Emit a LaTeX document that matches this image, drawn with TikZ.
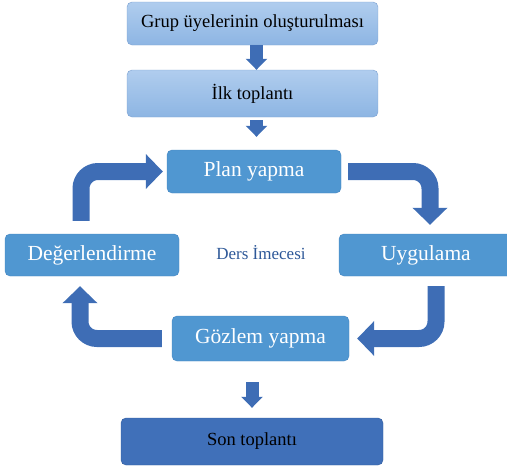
\documentclass[tikz,border=0pt]{standalone}
\usepackage{fontspec}
\setmainfont{Liberation Serif}
\usepackage{tikz}
\usetikzlibrary{arrows.meta,positioning,calc}
\definecolor{lightblue}{RGB}{176,205,238}
\definecolor{lightblueb}{RGB}{141,181,227}
\definecolor{lightedge}{RGB}{122,160,208}
\definecolor{midblue}{RGB}{80,151,209}
\definecolor{midedge}{RGB}{66,133,192}
\definecolor{darkblue}{RGB}{64,112,185}
\definecolor{darkedge}{RGB}{47,90,156}
\definecolor{arrowblue}{RGB}{62,109,181}
\definecolor{labelblue}{RGB}{46,88,152}

\begin{document}
\begin{tikzpicture}[x=1pt, y=-1pt]
  \tikzstyle{topbox} = [rectangle, rounded corners=5pt, draw=lightedge, top color=lightblue, bottom color=lightblueb, minimum width=251pt, align=center, font=\fontsize{18.5}{20}\selectfont]
  \tikzstyle{cyclebox} = [rectangle, rounded corners=5pt, draw=midedge, fill=midblue, text=white, minimum width=174pt, minimum height=43pt, align=center, font=\fontsize{21.5}{23}\selectfont]
  \tikzstyle{endbox} = [rectangle, rounded corners=5pt, draw=darkedge, fill=darkblue, minimum width=262pt, minimum height=47pt, align=center, font=\fontsize{18.5}{20}\selectfont]
  \tikzstyle{downarrow} = [draw=arrowblue, line width=13pt, -{Triangle[width=21pt,length=11pt]}]
  \tikzstyle{bentarrow} = [draw=arrowblue, line width=17pt, rounded corners=17pt, -{Triangle[width=34pt,length=17pt]}]

  \useasboundingbox (0,0) rectangle (507,466);
  \clip (0,0) rectangle (507,466);

  \node[topbox, minimum height=43pt] (grup) at (252.5, 23.5) {Grup üyelerinin oluşturulması};
  \node[topbox, minimum height=47pt] (ilk) at (252.5, 93.5) {İlk toplantı};

  \node[cyclebox] (plan) at (254, 171.5) {Plan yapma};
  \node[cyclebox, minimum height=42pt] (deger) at (92, 255) {Değerlendirme};
  \node[cyclebox, minimum height=42pt] (uygu) at (426, 255) {Uygulama};
  \node[cyclebox, minimum width=177pt, minimum height=45pt] (gozlem) at (260.5, 338.5) {Gözlem yapma};
  \node[font=\fontsize{17}{19}\selectfont, text=labelblue] (imece) at (261, 253) {Ders İmecesi};

  \node[endbox] (son) at (252, 441.5) {Son toplantı};

  % straight steps
  \draw[downarrow] ([xshift=4pt]grup.south) -- ([xshift=4pt]ilk.north);
  \draw[downarrow, shorten <=3pt, shorten >=13pt] ([xshift=4pt]ilk.south) -- ([xshift=4pt]ilk.south |- plan.north);
  \draw[downarrow, shorten <=21pt, shorten >=10pt] (gozlem.south -| son.north) -- (son.north);

  % the cycle
  \draw[bentarrow, shorten <=13pt, shorten >=4pt] ([xshift=-11pt]deger.north) |- (plan.west);
  \draw[bentarrow, shorten <=7pt, shorten >=9pt] (plan.east) -| ([xshift=4pt]uygu.north);
  \draw[bentarrow, shorten <=10pt, shorten >=8pt] ([xshift=10pt]uygu.south) |- (gozlem.east);
  \draw[bentarrow, shorten <=10pt, shorten >=10pt] (gozlem.west) -| ([xshift=-12pt]deger.south);
\end{tikzpicture}
\end{document}
